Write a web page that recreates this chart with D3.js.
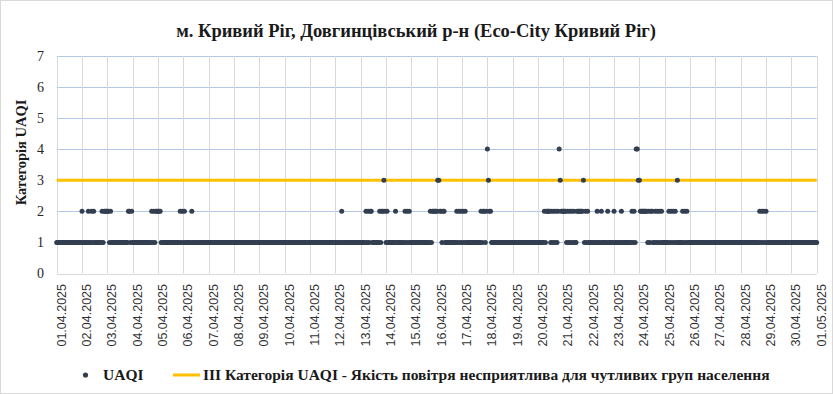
<!DOCTYPE html>
<html>
<head>
<meta charset="utf-8">
<style>
  body { margin: 0; background: #fff; }
  svg { display: block; }
  text { font-family: "Liberation Serif", "Times New Roman", serif; }
</style>
</head>
<body>
<svg width="833" height="394"></svg>
<script src="https://cdn.jsdelivr.net/npm/d3@7"></script>
<script>
// Tick labels and values
const dateLabels = ['01.04.2025','02.04.2025','03.04.2025','04.04.2025','05.04.2025','06.04.2025',
  '07.04.2025','08.04.2025','09.04.2025','10.04.2025','11.04.2025','12.04.2025','13.04.2025',
  '14.04.2025','15.04.2025','16.04.2025','17.04.2025','18.04.2025','19.04.2025','20.04.2025',
  '21.04.2025','22.04.2025','23.04.2025','24.04.2025','25.04.2025','26.04.2025','27.04.2025',
  '28.04.2025','29.04.2025','30.04.2025','01.05.2025'];
const yTicks = [0, 1, 2, 3, 4, 5, 6, 7];

// hourly UAQI category, one string of 24 hours per day (01.04 .. 30.04)
const uaqiDays = [
  '111111111111111111111111', // 01.04
  '211111211212111111121222',
  '221211111111111111112212',
  '111111111111111111212122',
  '222111111111111111111212', // 05.04
  '121111112111111111111111',
  '111111111111111111111111',
  '111111111111111111111111',
  '111111111111111111111111',
  '111111111111111111111111', // 10.04
  '111111111111111111111111',
  '111111211111111111111111',
  '111112121221111111212232',
  '121111111211111111212121',
  '111111111111111111212222', // 15.04
  '233221221111111111121212',
  '121211111111111111212212',
  '432211111111111111111111',
  '111111111111111111111111',
  '111111212222121212124322', // 20.04
  '222121212121122222231212',
  '111111112111211111211111',
  '211111121111111112121443',
  '322222221212211212121211',
  '111121212121311112121211', // 25.04
  '111111111111111111111111',
  '111111111111111111111111',
  '111111111111111111212121',
  '211111111111111111111111',
  '111111111111111111111111'  // 30.04
];
const uaqiLast = 1; // 01.05 00:00
const categoryIII = [3, 3];

const seriesNames = ['UAQI', 'ІІІ Категорія UAQI - Якість повітря несприятлива для чутливих груп населення'];
const title = 'м. Кривий Ріг, Довгинцівський р-н (Eco-City Кривий Ріг)';
const yTitle = 'Категорія UAQI';

const dotColor = '#333f50';
const lineColor = '#ffc000';

// hours since 01.04 00:00
const points = [];
uaqiDays.forEach((s, d) => {
  s.split('').forEach((c, h) => points.push({t: d * 24 + h, v: +c}));
});
points.push({t: uaqiDays.length * 24, v: uaqiLast});
const tMax = uaqiDays.length * 24;

const svg = d3.select('svg');
const W = 833, H = 394;
const plot = {left: 56.7, right: 816.7, top: 55.7, bottom: 273.5};

svg.append('rect').attr('x', 0.5).attr('y', 0.5).attr('width', W - 1).attr('height', H - 1)
  .attr('fill', '#fff').attr('stroke', '#d9d9d9');

const x = d3.scaleLinear().domain([0, tMax]).range([plot.left, plot.right]);
const y = d3.scaleLinear().domain([0, 7]).range([plot.bottom, plot.top]);

// horizontal grid (blue-ish), vertical grid (gray)
svg.append('g').selectAll('line')
  .data(yTicks.filter(d => d > 0)).enter().append('line')
  .attr('x1', plot.left).attr('x2', plot.right)
  .attr('y1', d => Math.round(y(d)) + 0.5).attr('y2', d => Math.round(y(d)) + 0.5)
  .attr('stroke', '#b4c7e7').attr('stroke-width', 1);

svg.append('g').selectAll('line')
  .data(dateLabels).enter().append('line')
  .attr('x1', (d, i) => Math.round(x(i * 24)) + 0.5).attr('x2', (d, i) => Math.round(x(i * 24)) + 0.5)
  .attr('y1', plot.top).attr('y2', plot.bottom)
  .attr('stroke', '#d9d9d9').attr('stroke-width', 1);

svg.append('line')
  .attr('x1', plot.left).attr('x2', plot.right)
  .attr('y1', Math.round(y(0)) + 0.5).attr('y2', Math.round(y(0)) + 0.5)
  .attr('stroke', '#d9d9d9');

// y tick labels
svg.append('g').selectAll('text')
  .data(yTicks).enter().append('text')
  .attr('x', 44).attr('y', d => y(d)).attr('dy', '0.35em')
  .attr('text-anchor', 'end')
  .attr('font-size', 14).attr('fill', '#262626')
  .text(d => d);

// x tick labels, rotated
svg.append('g').selectAll('text')
  .data(dateLabels).enter().append('text')
  .attr('transform', (d, i) => 'translate(' + x(i * 24) + ',284) rotate(-90)')
  .attr('dy', 9)
  .attr('text-anchor', 'end')
  .style('font-family', '"Liberation Sans", Arial, sans-serif')
  .attr('font-size', 12.5).attr('fill', '#333')
  .text(d => d);

// category III threshold line
const line = d3.line().x((d, i) => x(i * tMax)).y(d => y(d));
svg.append('path')
  .datum(categoryIII)
  .attr('fill', 'none').attr('stroke', lineColor).attr('stroke-width', 3)
  .attr('d', line);

// UAQI dots
svg.append('g').selectAll('circle')
  .data(points).enter().append('circle')
  .attr('cx', d => x(d.t)).attr('cy', d => y(d.v))
  .attr('r', 2.5).attr('fill', dotColor);

// titles
svg.append('text')
  .attr('x', 416).attr('y', 37)
  .attr('text-anchor', 'middle')
  .attr('font-size', 18.5).attr('font-weight', 'bold').attr('fill', '#1a1a1a')
  .text(title);

svg.append('text')
  .attr('transform', 'translate(26,' + 152.5 + ') rotate(-90)')
  .attr('text-anchor', 'middle')
  .attr('font-size', 14.5).attr('font-weight', 'bold').attr('fill', '#1a1a1a')
  .text(yTitle);

// legend
const legend = svg.append('g').attr('transform', 'translate(0,380)');
legend.append('circle').attr('cx', 85.5).attr('cy', -5).attr('r', 2.6).attr('fill', dotColor);
legend.append('text').attr('x', 103).attr('y', 0)
  .attr('font-size', 15.5).attr('font-weight', 'bold').attr('fill', '#1a1a1a')
  .text(seriesNames[0]);
legend.append('line').attr('x1', 173).attr('x2', 200).attr('y1', -5).attr('y2', -5)
  .attr('stroke', lineColor).attr('stroke-width', 3);
legend.append('text').attr('x', 203).attr('y', 0)
  .attr('font-size', 15.5).attr('font-weight', 'bold').attr('fill', '#1a1a1a')
  .text(seriesNames[1]);
</script>
</body>
</html>
